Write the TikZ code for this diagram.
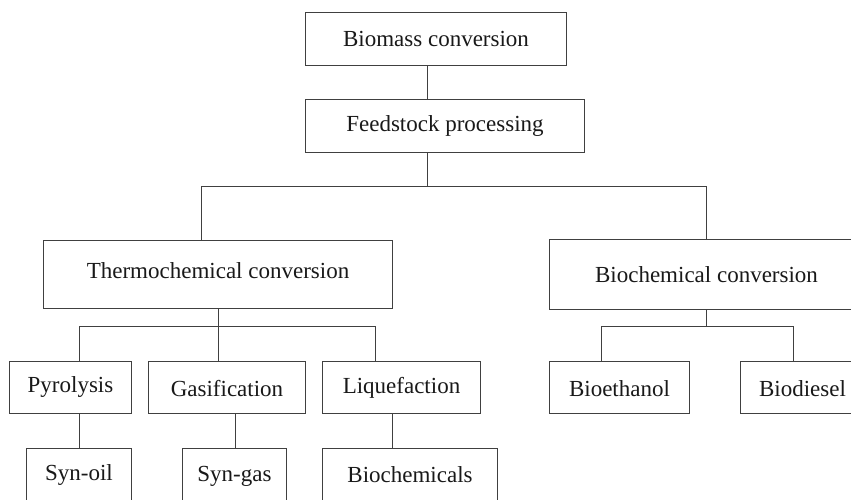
\documentclass[tikz,border=0pt]{standalone}
\usepackage{fontspec}
\setmainfont{Liberation Serif}
\newcommand{\dn}[2]{\raisebox{-#1pt}{#2}}
\begin{document}
\begin{tikzpicture}[x=1pt,y=-1pt,
  box/.style={draw=black!75, line width=1.5pt, inner sep=0pt, text height=15.7pt, text depth=5pt,
    font=\fontsize{23}{27}\selectfont, text=black!90},
  link/.style={draw=black!75, line width=1.5pt}]
\useasboundingbox (0,0) rectangle (851,499);
\fill[white] (0,0) rectangle (851,499);
\clip (0,0) rectangle (851,499);

\node[box, minimum width=261pt, minimum height=53pt] (bm) at (436,39) {\dn{2.3}{Biomass conversion}};
\node[box, minimum width=279pt, minimum height=53pt] (fp) at (445,126) {\dn{0.3}{Feedstock processing}};
\node[box, minimum width=349pt, minimum height=68pt] (tc) at (218,274.5) {\raisebox{1.5pt}{Thermochemical conversion}};
\node[box, minimum width=314pt, minimum height=70pt] (bc) at (706.5,274.5) {\dn{2.8}{Biochemical conversion}};
\node[box, minimum width=122pt, minimum height=52pt] (py) at (70.5,387.5) {Pyrolysis};
\node[box, minimum width=157pt, minimum height=52pt] (ga) at (227,387.5) {\dn{3.8}{Gasification}};
\node[box, minimum width=158pt, minimum height=52pt] (lq) at (401.5,387.5) {\dn{0.5}{Liquefaction}};
\node[box, minimum width=140pt, minimum height=52pt] (be) at (619.5,387.5) {\dn{3.8}{Bioethanol}};
\node[box, minimum width=124pt, minimum height=52pt] (bd) at (802.5,387.5) {\dn{3.8}{Biodiesel}};
\node[box, minimum width=105pt, minimum height=53pt] (so) at (79,475) {Syn-oil};
\node[box, minimum width=104pt, minimum height=53pt] (sg) at (234.5,475) {\dn{1.3}{Syn-gas}};
\node[box, minimum width=175pt, minimum height=53pt] (bch) at (410,475) {\dn{2.3}{Biochemicals}};

\coordinate (j0) at (427.5,186.5);
\coordinate (lt) at (201.5,186.5);
\coordinate (rt) at (706.5,186.5);
\coordinate (j1) at (218.5,326.5);
\coordinate (pa) at (79.5,326.5);
\coordinate (la) at (375.5,326.5);
\coordinate (j2) at (706.5,326.5);
\coordinate (ba) at (601.5,326.5);
\coordinate (da) at (793.5,326.5);
\coordinate (x1) at (79.5,430);
\coordinate (x2) at (235.5,430);
\coordinate (x3) at (392.5,430);

\draw[link] (bm.south -| j0) -- (fp.north -| j0);
\draw[link] (fp.south -| j0) -- (j0);
\draw[link] (tc.north -| lt) -- (lt) -- (rt) -- (bc.north -| rt);
\draw[link] (tc.south -| j1) -- (ga.north -| j1);
\draw[link] (py.north -| pa) -- (pa) -- (la) -- (lq.north -| la);
\draw[link] (bc.south -| j2) -- (j2);
\draw[link] (be.north -| ba) -- (ba) -- (da) -- (bd.north -| da);
\draw[link] (py.south -| x1) -- (so.north -| x1);
\draw[link] (ga.south -| x2) -- (sg.north -| x2);
\draw[link] (lq.south -| x3) -- (bch.north -| x3);
\end{tikzpicture}
\end{document}
